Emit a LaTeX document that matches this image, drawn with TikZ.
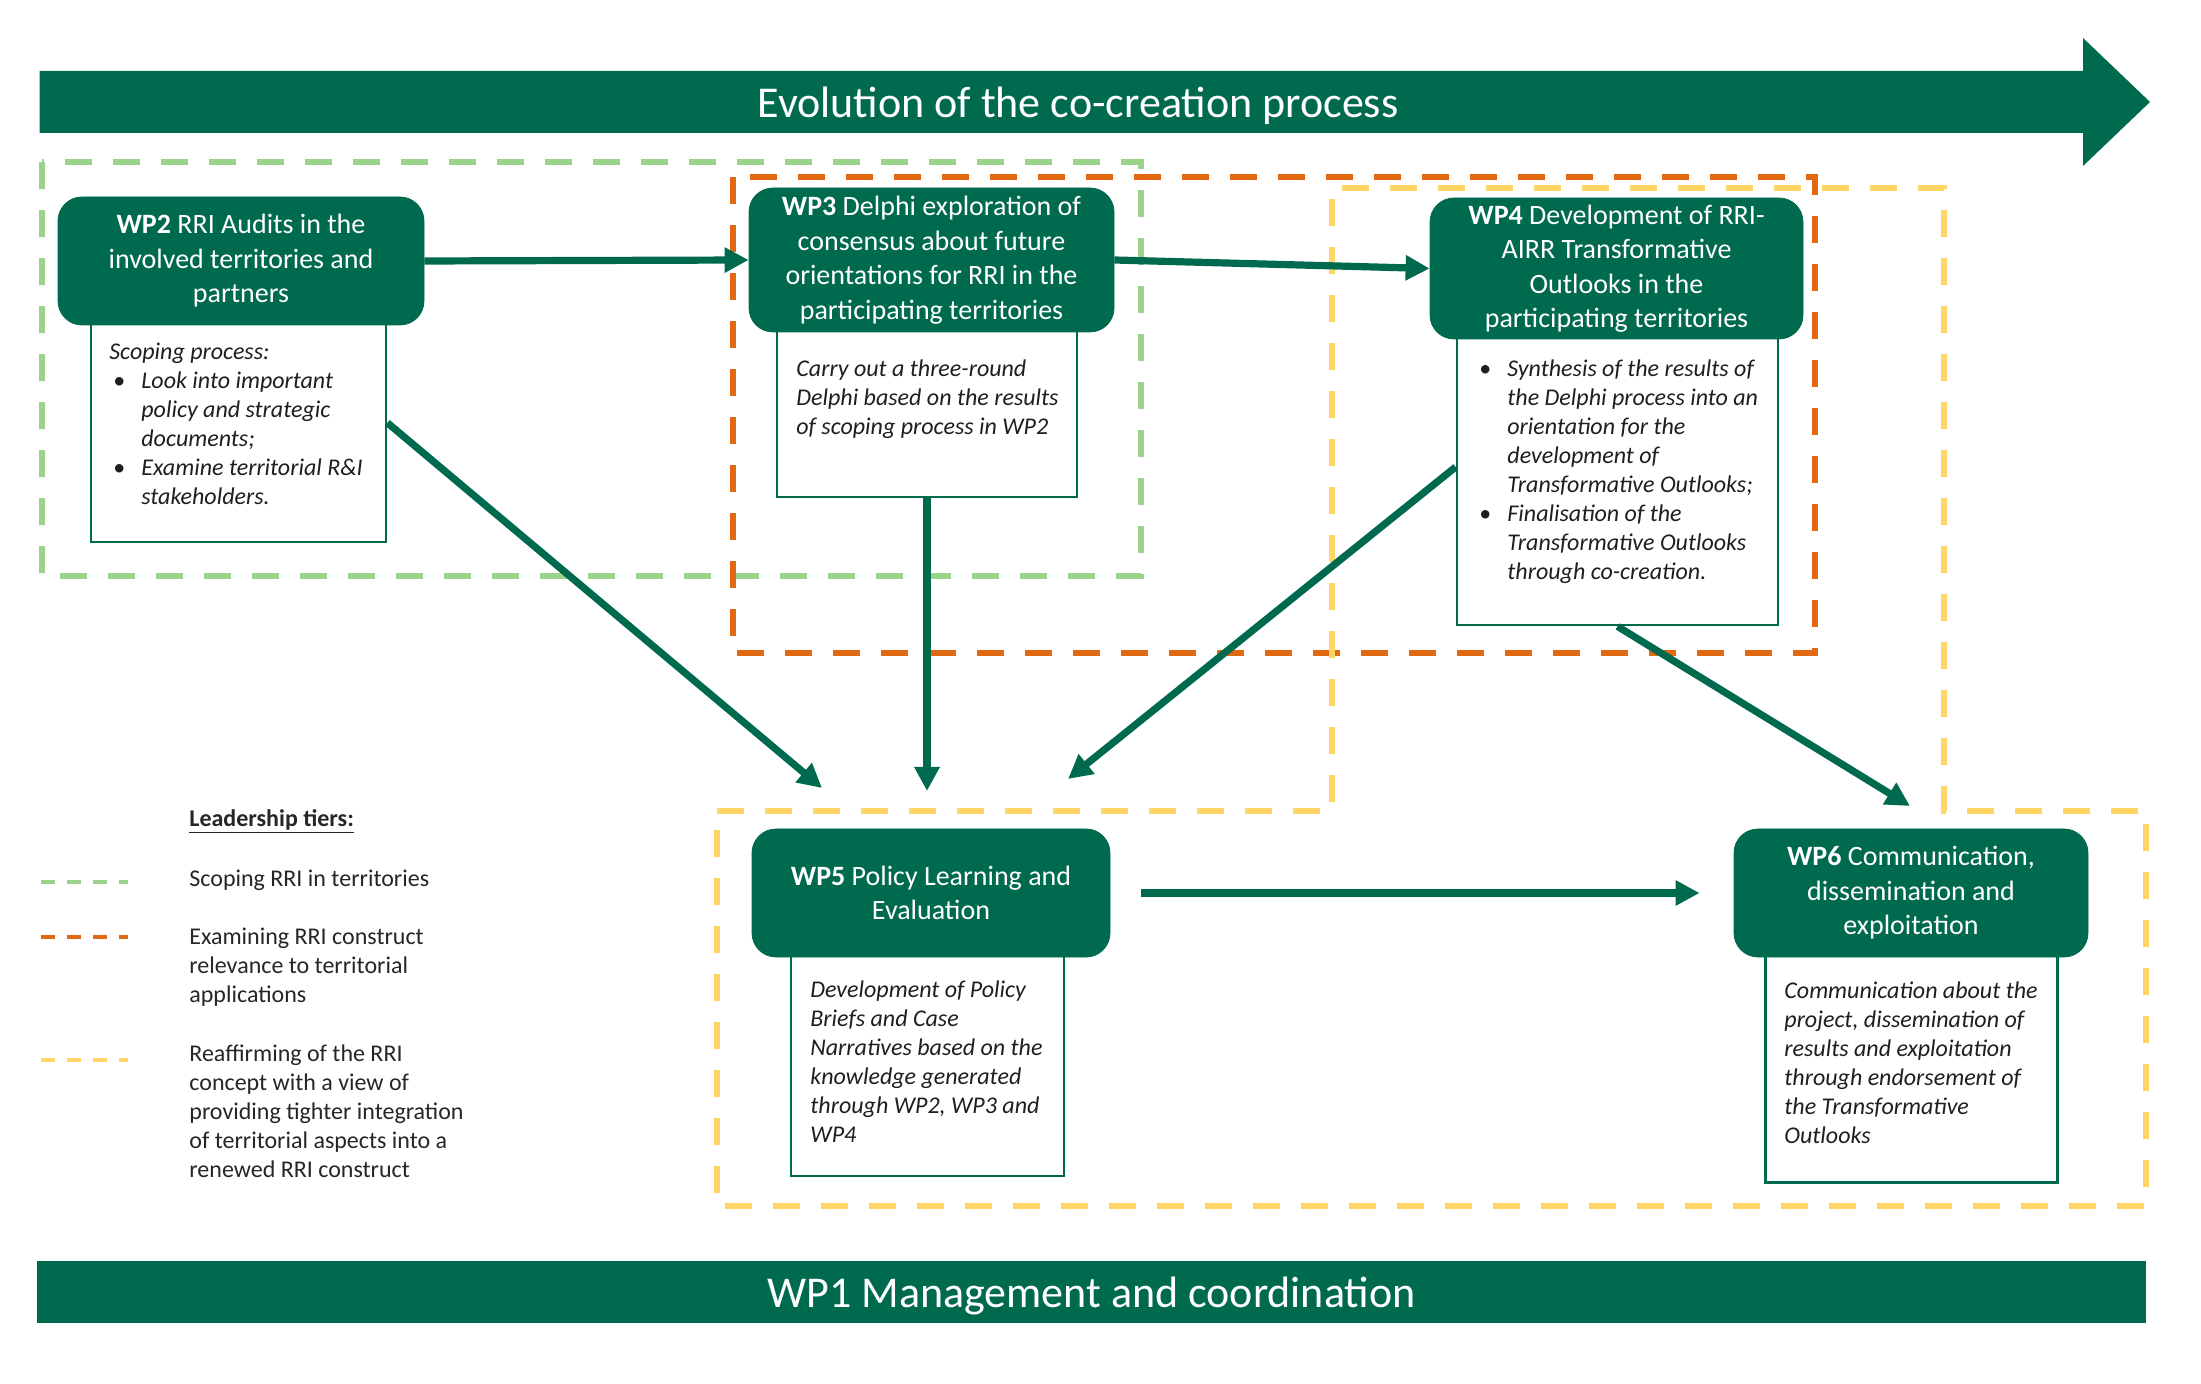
\documentclass[tikz,border=0pt]{standalone}
\usepackage{fontspec}
\setmainfont{Carlito}
\usetikzlibrary{arrows.meta,calc}
\definecolor{dg}{RGB}{0,106,78}
\definecolor{lg}{RGB}{155,210,140}
\definecolor{org}{RGB}{226,104,20}
\definecolor{yel}{RGB}{255,214,102}
\begin{document}
\begin{tikzpicture}[x=0.5pt,y=-0.5pt,
 hdr/.style={fill=dg,draw=dg,rounded corners=12pt,text=white,align=center,font=\fontsize{14}{17.25}\selectfont,inner sep=0pt},
 bdy/.style={draw=dg,line width=1.4pt,fill=white,inner sep=0pt},
 btxt/.style={anchor=north west,align=left,inner sep=0pt,font=\fontsize{12}{14.5}\selectfont\itshape,text=black!88},
 tier/.style={line width=3pt,dash pattern=on 13.5pt off 10.5pt},
 flow/.style={draw=dg,line width=3.6pt,-{Triangle[length=12pt,width=12pt]}},
 legline/.style={line width=2pt,dash pattern=on 7pt off 6pt},
 legtxt/.style={anchor=north west,align=left,inner sep=0pt,font=\fontsize{12}{14.5}\selectfont,text=black!85},
 bar/.style={fill=dg,text=white,inner sep=0pt,font=\fontsize{22}{26}\selectfont}
]
\useasboundingbox (0,0) rectangle (2201,1384);

% top evolution arrow
\fill[dg] (39.5,71) -- (2083,71) -- (2083,38) -- (2150,102) -- (2083,166) -- (2083,133) -- (39.5,133) -- cycle;
\node[bar,fill=none] (evo) at (1078,106) {Evolution of the co-creation process};

% bottom bar
\node[bar,minimum width=1054.5pt,minimum height=31pt] (wp1) at (1091.5,1292) {};
\node[bar,fill=none] (wp1t) at (1091.5,1296) {WP1 Management and coordination};

% leadership tier frames
\draw[tier,lg] (42,162) rectangle (1141,576);
\draw[tier,org] (733,177) rectangle (1815,653);
\draw[tier,yel] (717,811) -- (1332,811) -- (1332,188) -- (1944,188) -- (1944,811) -- (2146,811) -- (2146,1206) -- (717,1206) -- cycle;

% body boxes
\node[bdy,minimum width=147.5pt,minimum height=109pt] (wp2b) at (238.5,433) {};
\node[bdy,minimum width=150pt,minimum height=83pt] (wp3b) at (927,414) {};
\node[bdy,minimum width=160.5pt,minimum height=143.5pt] (wp4b) at (1617.5,481.5) {};
\node[bdy,minimum width=136.5pt,minimum height=110pt] (wp5b) at (927.5,1066) {};
\node[bdy,minimum width=146pt,minimum height=113.25pt] (wp6b) at (1911.5,1069) {};

% header boxes
\node[hdr,minimum width=183pt,minimum height=64pt] (wp2) at (241,261) {\textbf{WP2} RRI Audits in the\\involved territories and\\partners};
\node[hdr,minimum width=182.5pt,minimum height=72pt] (wp3) at (931.5,260) {\textbf{WP3} Delphi exploration of\\consensus about future\\orientations for RRI in the\\participating territories};
\node[hdr,minimum width=186.5pt,minimum height=70.5pt] (wp4) at (1616.5,268.5) {\textbf{WP4} Development of RRI-\\AIRR Transformative\\Outlooks in the\\participating territories};
\node[hdr,minimum width=179pt,minimum height=64pt] (wp5) at (931,893) {\textbf{WP5} Policy Learning and\\Evaluation};
\node[hdr,minimum width=177pt,minimum height=64pt] (wp6) at (1911,893) {\textbf{WP6} Communication,\\dissemination and\\exploitation};

% body texts
\node[btxt] (wp2t) at (109,343) {Scoping process:\\
\hspace*{2pt}\makebox[14pt][l]{\upshape\textbullet}Look into important\\
\hspace*{16pt}policy and strategic\\
\hspace*{16pt}documents;\\
\hspace*{2pt}\makebox[14pt][l]{\upshape\textbullet}Examine territorial R\&I\\
\hspace*{16pt}stakeholders.};
\node[btxt] (wp3t) at (796,359) {Carry out a three-round\\Delphi based on the results\\of scoping process in WP2};
\node[btxt] (wp4t) at (1479,359) {\makebox[14pt][l]{\upshape\textbullet}Synthesis of the results of\\
\hspace*{14pt}the Delphi process into an\\
\hspace*{14pt}orientation for the\\
\hspace*{14pt}development of\\
\hspace*{14pt}Transformative Outlooks;\\
\makebox[14pt][l]{\upshape\textbullet}Finalisation of the\\
\hspace*{14pt}Transformative Outlooks\\
\hspace*{14pt}through co-creation.};
\node[btxt] (wp5t) at (810,980) {Development of Policy\\Briefs and Case\\Narratives based on the\\knowledge generated\\through WP2, WP3 and\\WP4};
\node[btxt] (wp6t) at (1784,981) {Communication about the\\project, dissemination of\\results and exploitation\\through endorsement of\\the Transformative\\Outlooks};

% flow arrows
\coordinate (e5a) at (822,788);
\coordinate (e5b) at (927,791);
\coordinate (e5c) at (1068,779);
\coordinate (e6a) at (1910,806);
\draw[flow] (wp2.east) -- (wp3.west);
\draw[flow] (wp3.east) -- (wp4.west);
\draw[flow] ($(wp2b.north east)!0.454!(wp2b.south east)$) -- (e5a);
\draw[flow] (wp3b.south) -- (e5b);
\draw[flow] ($(wp4b.north west)!0.45!(wp4b.south west)$) -- (e5c);
\draw[flow] (wp4b.south) -- (e6a);
\draw[flow,shorten <=15.5pt,shorten >=17pt] (wp5.east) -- (wp6.west);

% legend
\node[legtxt] (legt) at (189,809) {\underline{\textbf{Leadership tiers:}}};
\coordinate (l1a) at (41,882); \coordinate (l1b) at (128,882);
\coordinate (l2a) at (41,937); \coordinate (l2b) at (128,937);
\coordinate (l3a) at (41,1060); \coordinate (l3b) at (128,1060);
\draw[legline,lg] (l1a) -- (l1b);
\draw[legline,org] (l2a) -- (l2b);
\draw[legline,yel] (l3a) -- (l3b);
\node[legtxt] (leg1) at (189,870) {Scoping RRI in territories};
\node[legtxt] (leg2) at (189,928) {Examining RRI construct\\relevance to territorial\\applications};
\node[legtxt] (leg3) at (189,1044) {Reaffirming of the RRI\\concept with a view of\\providing tighter integration\\of territorial aspects into a\\renewed RRI construct};
\end{tikzpicture}
\end{document}
